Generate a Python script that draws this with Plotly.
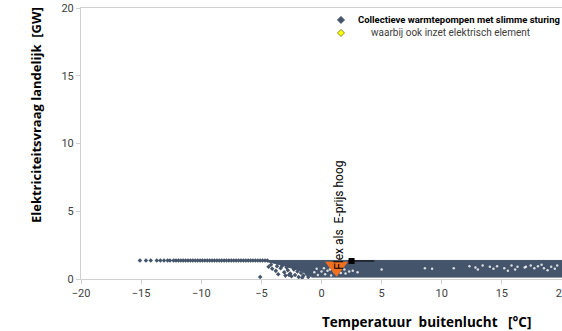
import plotly.graph_objects as go

# temperature (x, degC) / national demand (y, GW)
top_x = [-15.1, -14.6, -14.2, -13.7, -13.4, -13.1, -12.8, -12.6, -12.3, -12.1, -11.9,
         -11.7, -11.5, -11.3, -11.1, -10.9, -10.7, -10.5, -10.3, -10.1, -9.9, -9.7,
         -9.5, -9.3, -9.1, -8.9, -8.7, -8.5, -8.3, -8.1, -7.9, -7.7, -7.5, -7.3, -7.1,
         -6.9, -6.7, -6.5, -6.3, -6.1, -5.9, -5.7, -5.5, -5.3, -5.1, -4.9, -4.7, -4.5]
top_y = [1.36] * len(top_x)

# outline of the dense cloud of points between -5 and 20 degC
band_x = [-4.6, 20.5, 20.5, -0.8, -1.6, -2.4, -3.2, -3.9, -4.6]
band_y = [1.37, 1.37, 0.14, 0.14, 0.55, 0.8, 1.0, 1.15, 1.3]

# scattered lower points below the dense cloud
low_x = [-5.1, -4.4, -4.1, -3.8, -3.6, -3.4, -3.1, -3.0, -2.8, -2.6, -2.5, -2.3, -2.2,
         -2.0, -1.9, -1.7, -1.5, -1.4, -1.2, -1.1, -3.3, -2.9, -2.4, -2.1, -1.8, -1.3,
         -4.2, -3.7, -2.7, -1.6]
low_y = [0.15, 0.9, 0.75, 0.6, 0.35, 0.8, 0.5, 0.25, 0.65, 0.4, 0.2, 0.7, 0.3,
         0.55, 0.15, 0.45, 0.25, 0.6, 0.35, 0.15, 0.95, 0.85, 0.95, 0.9, 0.75, 0.5,
         1.05, 0.95, 0.3, 0.1]

# gaps (light spots) inside the dense cloud
gap_x = [-0.6, -0.3, 0.0, 0.3, 0.5, 0.8, 1.1, 1.6, 1.9, 2.3, -0.4, 0.2, 0.7, 1.4,
         2.0, 2.6, 3.0, 5.0, 8.6, 9.2, 11.0, 12.3, 12.8, 13.4, 14.0, 14.6, 15.2,
         15.8, 16.3, 16.9, 17.4, 18.0, 18.5, 19.1, 19.6, 13.0, 14.3, 16.1, 17.7,
         18.8, 19.4, 15.5, 17.0, 18.3]
gap_y = [0.5, 0.3, 0.55, 0.35, 0.6, 0.25, 0.5, 0.45, 0.7, 0.55, 0.75, 0.8, 0.7,
         0.65, 0.4, 0.6, 0.5, 0.7, 0.8, 0.75, 0.8, 0.95, 0.85, 1.0, 0.9, 0.95, 0.8,
         1.0, 0.9, 0.85, 1.0, 0.95, 0.8, 0.9, 1.0, 0.7, 0.75, 0.7, 0.8, 0.65, 0.75,
         0.6, 0.9, 1.05]

flex_x = [1.25]
flex_y = [0.9]
mean_x = [2.5]
mean_y = [1.33]
mean_err_plus = [1.9]
mean_err_minus = [0.3]

legend_names = ['<b>Collectieve warmtepompen met slimme sturing</b>',
                'waarbij ook inzet elektrisch element']

slate = '#44546A'
font_family = 'Roboto'
title_family = 'Open Sans'

fig = go.Figure()
fig.add_trace(go.Scatter(
    x=band_x, y=band_y, mode='lines', fill='toself', fillcolor=slate,
    line=dict(color=slate, width=1), showlegend=False, hoverinfo='skip'
))
fig.add_trace(go.Scatter(
    x=gap_x, y=gap_y, mode='markers', showlegend=False, hoverinfo='skip',
    marker=dict(symbol='circle', size=2.5, color='rgba(255,255,255,0.8)')
))
fig.add_trace(go.Scatter(
    x=top_x + low_x, y=top_y + low_y, mode='markers', showlegend=False,
    marker=dict(symbol='diamond', size=3.5, color=slate)
))
fig.add_trace(go.Scatter(
    x=flex_x, y=flex_y, mode='markers', showlegend=False,
    marker=dict(symbol='triangle-down', size=20, color='#F07020')
))
fig.add_trace(go.Scatter(
    x=mean_x, y=mean_y, mode='markers', showlegend=False,
    marker=dict(symbol='square', size=6, color='black'),
    error_x=dict(type='data', array=mean_err_plus, arrayminus=mean_err_minus,
                 color='black', thickness=1, width=0)
))

# legend drawn by hand so the two rows sit close together (like the original)
def diamond(cx, cy, fill, line):
    dx, dy = 3.5 / 481, 3.5 / 271
    path = f'M {cx - dx} {cy} L {cx} {cy + dy} L {cx + dx} {cy} L {cx} {cy - dy} Z'
    fig.add_shape(type='path', path=path, xref='paper', yref='paper',
                  fillcolor=fill, line=dict(color=line, width=1))

diamond(0.5405, 0.956, slate, slate)
diamond(0.5405, 0.908, '#FFFF00', '#8a8a30')
fig.add_annotation(x=0.5717, y=0.956, xref='paper', yref='paper', text=legend_names[0],
                   showarrow=False, xanchor='left', yanchor='middle',
                   font=dict(size=9.5, color='black', family=font_family))
fig.add_annotation(x=0.5988, y=0.908, xref='paper', yref='paper', text=legend_names[1],
                   showarrow=False, xanchor='left', yanchor='middle',
                   font=dict(size=10, color='#404040', family=font_family))

fig.add_annotation(
    x=1.5, y=4.7, xref='x', yref='y', text='Flex als\u00a0 E-prijs hoog', textangle=-90,
    showarrow=False, font=dict(size=12, color='black', family=font_family)
)
fig.add_annotation(
    x=0.719, y=-0.159, xref='paper', yref='paper',
    text='<b>Temperatuur\u00a0 buitenlucht\u00a0\u00a0 [°C]</b>',
    showarrow=False, font=dict(size=13.5, color='black', family=title_family),
    xanchor='center', yanchor='middle'
)
fig.add_annotation(
    x=-0.0936, y=0.605, xref='paper', yref='paper',
    text='<b>Elektriciteitsvraag landelijk\u00a0 [GW]</b>',
    textangle=-90, showarrow=False, font=dict(size=13, color='black', family=title_family),
    xanchor='center', yanchor='middle'
)

fig.update_layout(
    width=562,
    height=331,
    margin=dict(l=81, r=0, t=8, b=52, autoexpand=False),
    plot_bgcolor='white',
    paper_bgcolor='white',
    font=dict(family=font_family, size=11, color='#404040'),
    showlegend=False,
    xaxis=dict(range=[-20, 20], tickvals=[-20, -15, -10, -5, 0, 5, 10, 15, 20],
               showgrid=False, zeroline=False, showline=True, linecolor='#d0d0d0',
               mirror=True, ticks='outside', ticklen=4, tickcolor='#d0d0d0',
               ticklabeloverflow='allow'),
    yaxis=dict(range=[0, 20], tickvals=[0, 5, 10, 15, 20],
               showgrid=False, zeroline=False, showline=True, linecolor='#d0d0d0',
               mirror=True, ticks='outside', ticklen=4, tickcolor='#d0d0d0'),
)

# drop the default 8px page margin so the figure sits at the window's corner
fig.write_html("out.html", config={'displayModeBar': False},
               post_script="document.body.style.margin = '0';")
